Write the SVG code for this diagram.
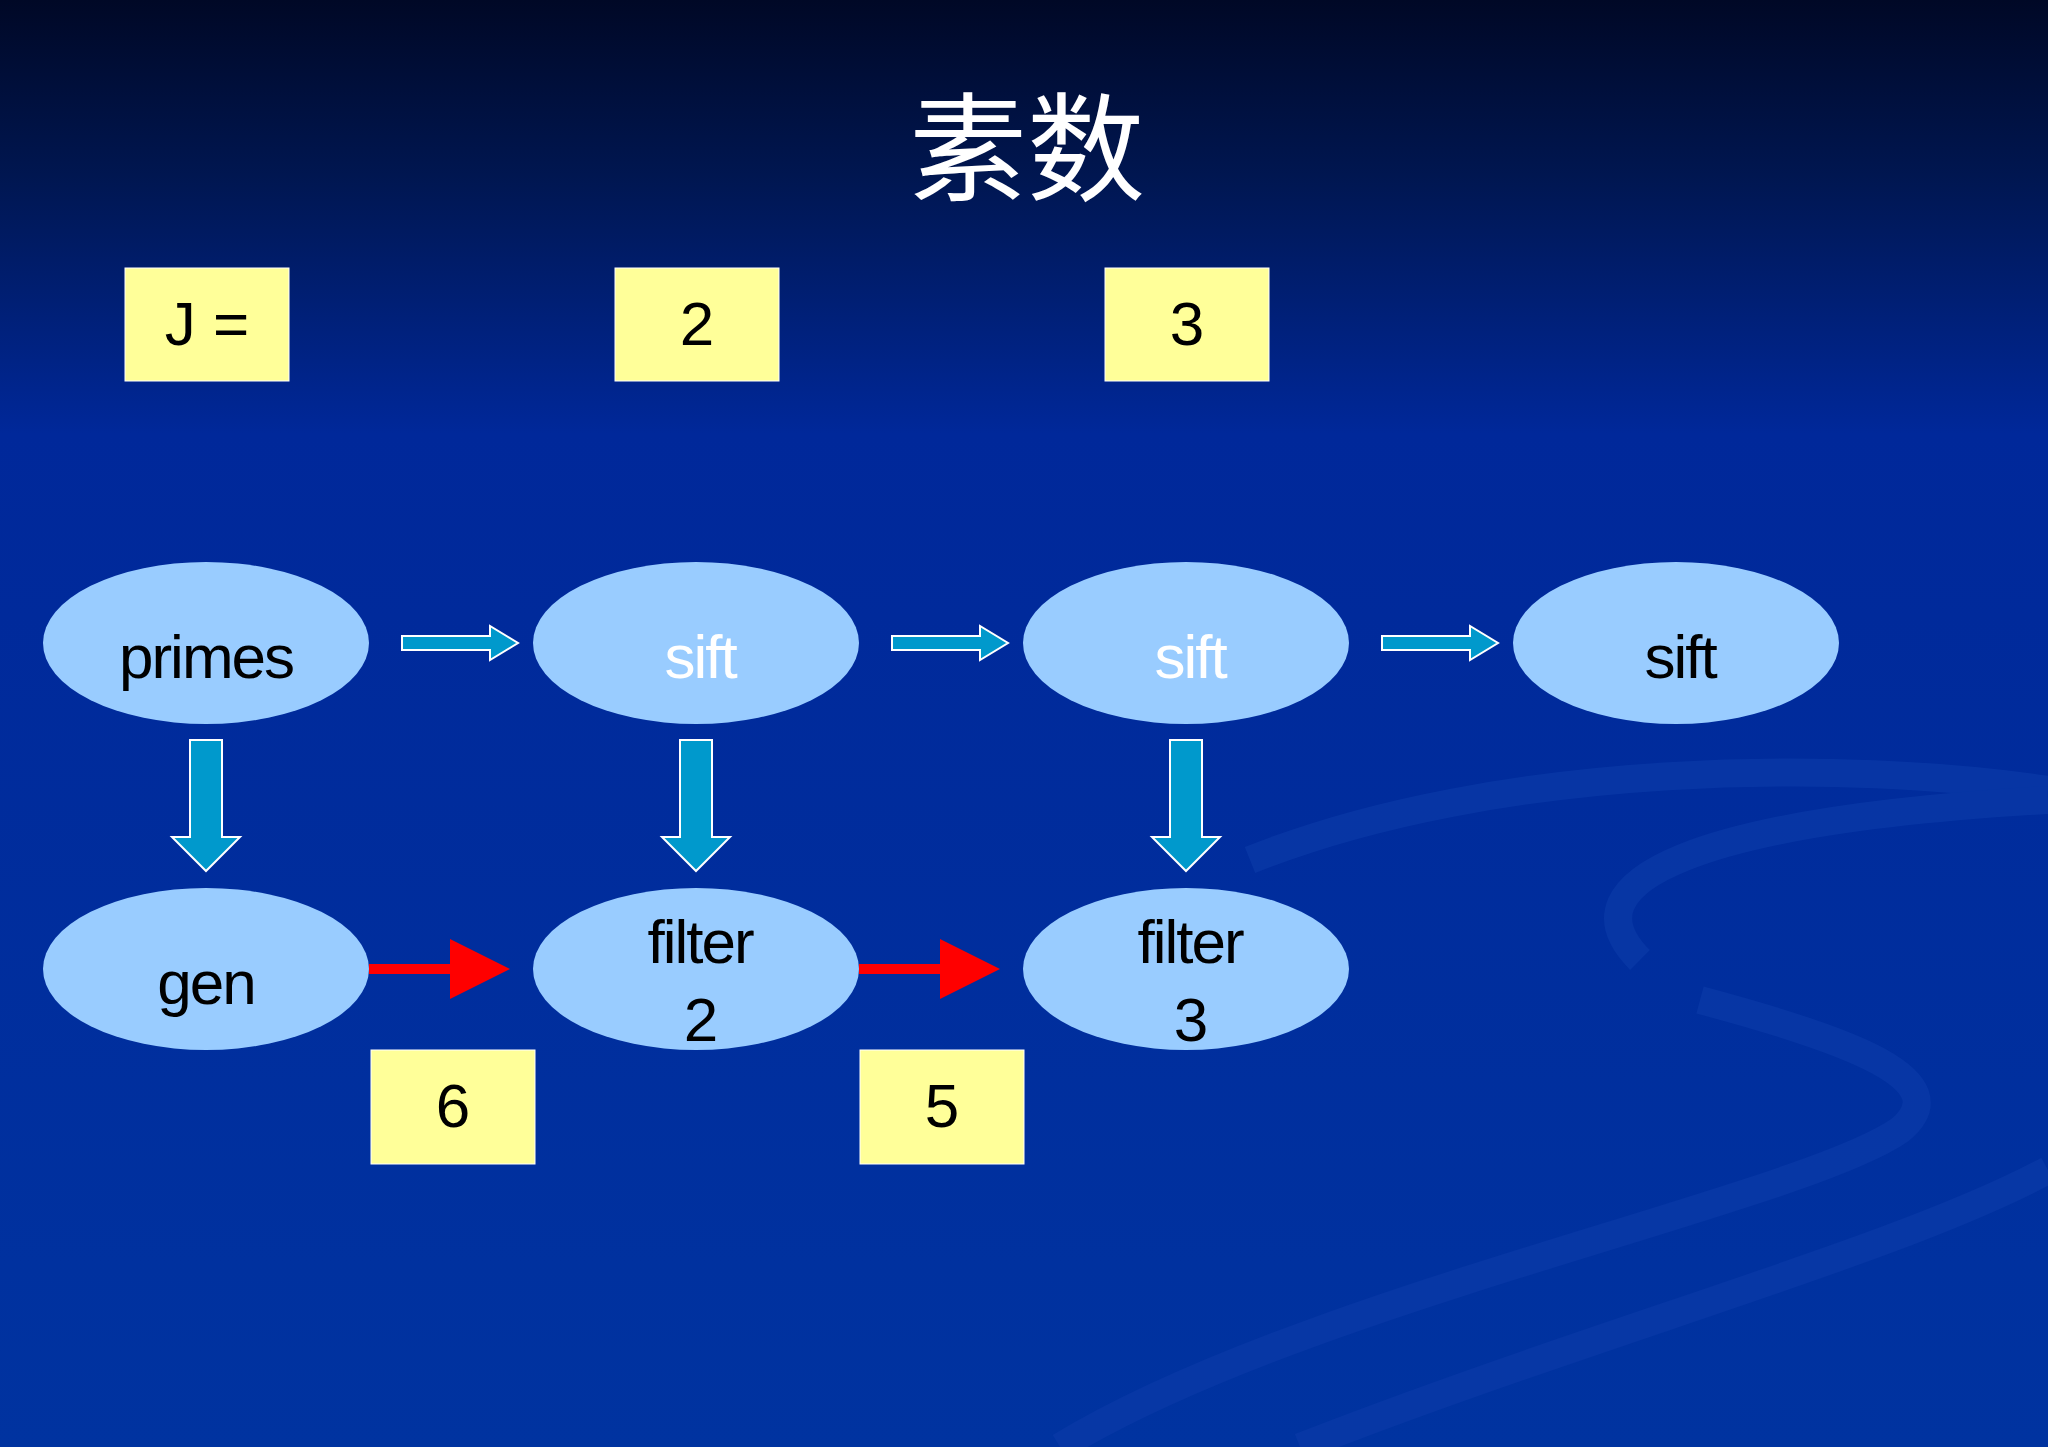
<svg xmlns="http://www.w3.org/2000/svg" width="2048" height="1447" viewBox="0 0 2048 1447">
<defs>
<linearGradient id="bg" x1="0" y1="0" x2="0" y2="1">
<stop offset="0" stop-color="#000826"/>
<stop offset="0.12" stop-color="#001650"/>
<stop offset="0.3" stop-color="#00289a"/>
<stop offset="1" stop-color="#0033a0"/>
</linearGradient>
<marker id="red" markerWidth="6" markerHeight="6" refX="5" refY="3" orient="auto" markerUnits="strokeWidth"><path d="M0,0 L6,3 L0,6 Z" fill="#ff0000"/></marker>
<style>
.box{fill:#ffff99;stroke:#ffffff;stroke-width:1}
.bt{font-family:"Liberation Sans Narrow","Liberation Sans",sans-serif;font-size:62px;fill:#000;text-anchor:middle}
.el{fill:#99ccff}
.nt{font-family:"Liberation Sans",Arial,sans-serif;font-size:62px;text-anchor:middle;letter-spacing:-2px}
.arr{fill:#0099cc;stroke:#ffffff;stroke-width:2}
.red{stroke:#ff0000;stroke-width:10;fill:none}
</style>
</defs>
<rect width="2048" height="1447" fill="url(#bg)"/>
<g fill="none" stroke="#0a3aa8" stroke-width="28" opacity="0.7">
<path d="M1250,860 C1500,760 1850,760 2048,790"/>
<path d="M1640,960 C1560,880 1700,820 2048,800"/>
<path d="M1060,1447 C1300,1300 1800,1200 1900,1130 C1960,1080 1850,1040 1700,1000"/>
<path d="M1300,1447 C1600,1330 1900,1250 2048,1170"/>
</g>
<text x="1027" y="192" font-family="Noto Sans CJK SC,sans-serif" font-size="118" fill="#ffffff" text-anchor="middle">素数</text>
<g id="boxJ"><rect class="box" x="125" y="268" width="164" height="113"/><text class="bt" x="207" y="345">J  =</text></g>
<g id="box2"><rect class="box" x="615" y="268" width="164" height="113"/><text class="bt" x="697" y="345">2</text></g>
<g id="box3"><rect class="box" x="1105" y="268" width="164" height="113"/><text class="bt" x="1187" y="345">3</text></g>
<g id="box6"><rect class="box" x="371" y="1050" width="164" height="114"/><text class="bt" x="453" y="1127">6</text></g>
<g id="box5"><rect class="box" x="860" y="1050" width="164" height="114"/><text class="bt" x="942" y="1127">5</text></g>
<g id="primes"><ellipse class="el" cx="206" cy="643" rx="163" ry="81"/><text class="nt" x="206" y="678" fill="#000">primes</text></g>
<g id="sift1"><ellipse class="el" cx="696" cy="643" rx="163" ry="81"/><text class="nt" x="700" y="678" fill="#fff">sift</text></g>
<g id="sift2"><ellipse class="el" cx="1186" cy="643" rx="163" ry="81"/><text class="nt" x="1190" y="678" fill="#fff">sift</text></g>
<g id="sift3"><ellipse class="el" cx="1676" cy="643" rx="163" ry="81"/><text class="nt" x="1680" y="678" fill="#000">sift</text></g>
<g id="gen"><ellipse class="el" cx="206" cy="969" rx="163" ry="81"/><text class="nt" x="206" y="1004" fill="#000">gen</text></g>
<g id="filter2"><ellipse class="el" cx="696" cy="969" rx="163" ry="81"/><text class="nt" x="700" y="963" fill="#000">filter</text><text class="nt" x="700" y="1041" fill="#000">2</text></g>
<g id="filter3"><ellipse class="el" cx="1186" cy="969" rx="163" ry="81"/><text class="nt" x="1190" y="963" fill="#000">filter</text><text class="nt" x="1190" y="1041" fill="#000">3</text></g>
<g id="connectors">
<path class="arr" d="M402,636 L490,636 L490,626 L518,643 L490,660 L490,650 L402,650 Z"/>
<path class="arr" d="M892,636 L980,636 L980,626 L1008,643 L980,660 L980,650 L892,650 Z"/>
<path class="arr" d="M1382,636 L1470,636 L1470,626 L1498,643 L1470,660 L1470,650 L1382,650 Z"/>
<path class="arr" d="M190,740 L222,740 L222,837 L240,837 L206,871 L172,837 L190,837 Z"/>
<path class="arr" d="M680,740 L712,740 L712,837 L730,837 L696,871 L662,837 L680,837 Z"/>
<path class="arr" d="M1170,740 L1202,740 L1202,837 L1220,837 L1186,871 L1152,837 L1170,837 Z"/>
<line class="red" x1="369" y1="969" x2="500" y2="969" marker-end="url(#red)"/>
<line class="red" x1="859" y1="969" x2="990" y2="969" marker-end="url(#red)"/>
</g>
</svg>
